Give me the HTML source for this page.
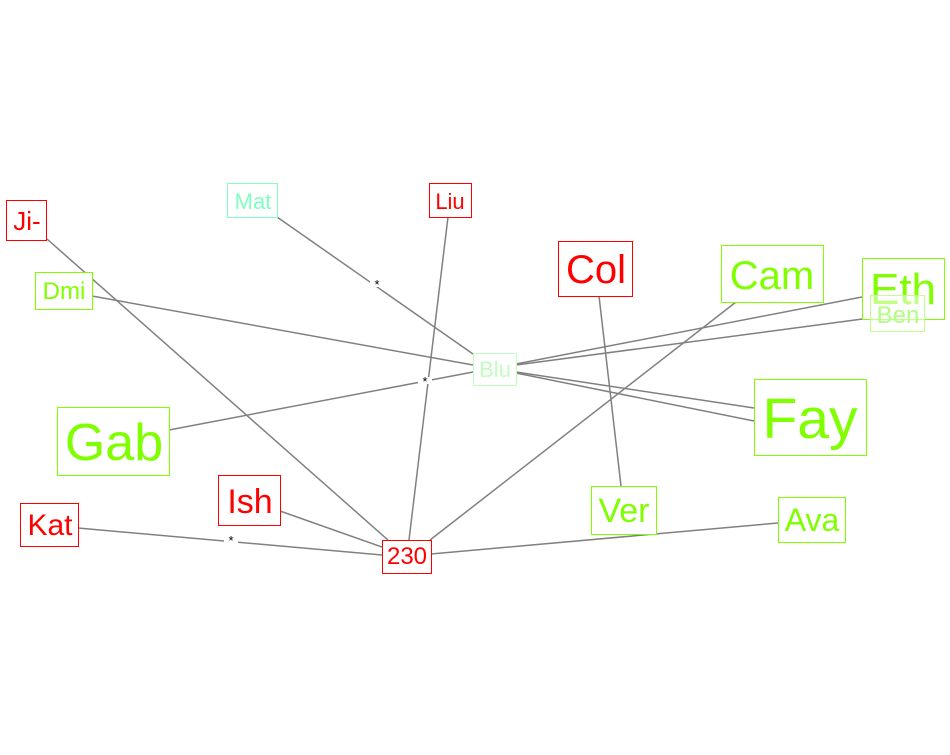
<!DOCTYPE html>
<html><head><meta charset="utf-8"><style>
html,body{margin:0;padding:0;background:#fff;}
svg{display:block;}
text{font-family:"Liberation Sans",sans-serif;}
</style></head><body>
<svg width="950" height="755" viewBox="0 0 950 755" xmlns="http://www.w3.org/2000/svg">
<g stroke="#808080" stroke-width="1.5" fill="none">
<line x1="47" y1="239" x2="388" y2="540"/>
<line x1="277" y1="217" x2="473" y2="354"/>
<line x1="448" y1="217" x2="409" y2="540"/>
<line x1="92" y1="296" x2="473" y2="365"/>
<line x1="169" y1="430" x2="473" y2="372"/>
<line x1="280" y1="511" x2="382" y2="547"/>
<line x1="78" y1="528" x2="382" y2="555"/>
<line x1="431" y1="554" x2="778" y2="523"/>
<line x1="430" y1="540" x2="736" y2="302"/>
<line x1="599" y1="296" x2="621" y2="486"/>
<line x1="516" y1="364" x2="862" y2="297"/>
<line x1="516" y1="365" x2="870" y2="318"/>
<line x1="516" y1="372" x2="754" y2="408"/>
<line x1="516" y1="373" x2="754" y2="421"/>
</g>
<g fill="#fff">
<rect x="370" y="280" width="14" height="7"/>
<rect x="418" y="377" width="14" height="7"/>
<rect x="224" y="536" width="14" height="7"/>
</g>
<g font-size="13" fill="#000" text-anchor="middle">
<text x="377" y="289">*</text>
<text x="425" y="386">*</text>
<text x="231" y="545">*</text>
</g>
<g fill="#fff" stroke-width="1">
<rect x="6.5" y="200.5" width="40" height="40" stroke="#f00"/>
<rect x="227.5" y="183.5" width="50" height="34" stroke="#80ffc0"/>
<rect x="429.5" y="183.5" width="42" height="34" stroke="#f00"/>
<rect x="35.5" y="272.5" width="57" height="37" stroke="#80ff00"/>
<rect x="473.5" y="353.5" width="43" height="32" stroke="#c0ffc0"/>
<rect x="57.5" y="407.5" width="112" height="68" stroke="#80ff00"/>
<rect x="218.5" y="475.5" width="62" height="50" stroke="#f00"/>
<rect x="20.5" y="503.5" width="58" height="43" stroke="#f00"/>
<rect x="382.5" y="540.5" width="49" height="33" stroke="#f00"/>
<rect x="558.5" y="241.5" width="74" height="55" stroke="#f00"/>
<rect x="721.5" y="245.5" width="102" height="57" stroke="#80ff00"/>
<rect x="862.5" y="258.5" width="82" height="61" stroke="#80ff00"/>
<rect x="754.5" y="379.5" width="112" height="76" stroke="#80ff00"/>
<rect x="591.5" y="486.5" width="65" height="48" stroke="#80ff00"/>
<rect x="778.5" y="497.5" width="67" height="45" stroke="#80ff00"/>
</g>
<g text-anchor="middle">
<text x="27" y="230" font-size="26" fill="#f00">Ji-</text>
<text x="253" y="209" font-size="22" fill="#80ffc0">Mat</text>
<text x="450" y="209" font-size="22" fill="#f00">Liu</text>
<text x="64" y="299" font-size="24" fill="#80ff00">Dmi</text>
<text x="495" y="377" font-size="22" fill="#c0ffc0">Blu</text>
<text x="114" y="460" font-size="52" fill="#80ff00">Gab</text>
<text x="250" y="513" font-size="34" fill="#f00">Ish</text>
<text x="50" y="535" font-size="30" fill="#f00">Kat</text>
<text x="407" y="564" font-size="24" fill="#f00">230</text>
<text x="596" y="283" font-size="40" fill="#f00">Col</text>
<text x="772" y="289" font-size="40" fill="#80ff00">Cam</text>
<text x="903" y="304" font-size="44" fill="#80ff00">Eth</text>
<text x="810" y="438" font-size="57" fill="#80ff00">Fay</text>
<text x="624" y="522" font-size="34" fill="#80ff00">Ver</text>
<text x="812" y="531" font-size="32" fill="#80ff00">Ava</text>
</g>
<rect x="870.5" y="295.5" width="54" height="36" fill="#fff" fill-opacity="0.5" stroke="#c0ff90" stroke-width="1"/>
<text x="898" y="323" font-size="24" fill="#b0ff80" text-anchor="middle">Ben</text>
</svg>
</body></html>
